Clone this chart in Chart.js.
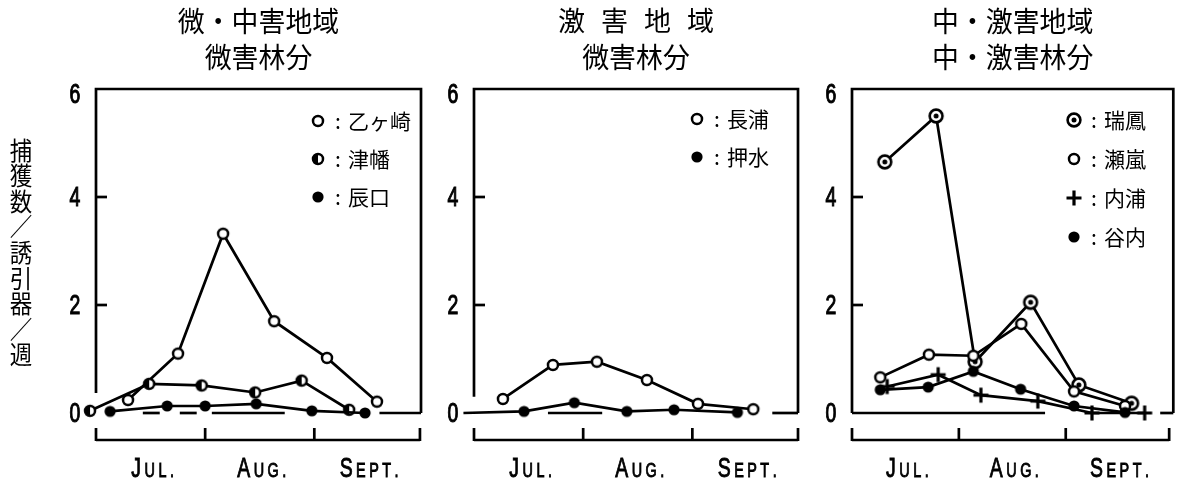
<!DOCTYPE html>
<html>
<head>
<meta charset="utf-8">
<script src="https://cdn.jsdelivr.net/npm/chart.js@4/dist/chart.umd.min.js"></script>
<style>
  html, body { margin: 0; padding: 0; background: #fff; }
  #wrap { position: relative; width: 1182px; height: 483px; background: #fff; }
  #wrap canvas { position: absolute; left: 0; top: 0; }
</style>
</head>
<body>
<div id="wrap">
  <canvas id="c1" width="1182" height="483"></canvas>
  <canvas id="c2" width="1182" height="483"></canvas>
  <canvas id="c3" width="1182" height="483"></canvas>
</div>
<script>
// ---- shared axis data (x = days counted from 1 July) ----
const monthNames = ['JUL.', 'AUG.', 'SEPT.'];
const monthStartDays = [0, 31, 62, 92];
const yTickLabels = ['0', '2', '4', '6'];
const yTickValues = [0, 2, 4, 6];
const yAxisTitle = '捕獲数／誘引器／週';

// ---- panel 1: 微・中害地域 / 微害林分 ----
const p1Title = ['微・中害地域', '微害林分'];
const otogasakiDays  = [9.1, 23.3, 36.1, 50.6, 65.6, 79.8];
const otogasakiCatch = [0.24, 1.10, 3.32, 1.70, 1.02, 0.21];
const tsubataDays    = [-1.7, 15.1, 30.0, 45.2, 58.4, 71.9];
const tsubataCatch   = [0.04, 0.54, 0.51, 0.38, 0.60, 0.06];
const tatsunokuchiDays  = [4.0, 20.2, 31.0, 45.5, 61.3, 76.4];
const tatsunokuchiCatch = [0.03, 0.13, 0.13, 0.17, 0.04, 0.00];

// ---- panel 2: 激害地域 / 微害林分 ----
const p2Title = ['激 害 地 域', '微害林分'];
const nagauraDays  = [8.2, 22.4, 34.9, 49.1, 63.6, 79.3];
const nagauraCatch = [0.26, 0.89, 0.95, 0.61, 0.17, 0.07];
const oshimizuDays  = [-3.0, 14.2, 28.5, 43.4, 56.8, 74.8];
const oshimizuCatch = [0.00, 0.03, 0.19, 0.03, 0.06, 0.01];

// ---- panel 3: 中・激害地域 / 中・激害林分 ----
const p3Title = ['中・激害地域', '中・激害林分'];
const zuihoDays  = [9.5, 24.4, 35.7, 51.8, 65.8, 81.1];
const zuihoCatch = [4.65, 5.50, 0.95, 2.05, 0.52, 0.18];
const searashiDays  = [8.2, 22.3, 35.2, 49.1, 64.4, 79.2];
const searashiCatch = [0.66, 1.08, 1.06, 1.65, 0.40, 0.13];
const uchiuraDays  = [10.2, 25.0, 37.4, 53.9, 69.6, 84.9];
const uchiuraCatch = [0.49, 0.71, 0.33, 0.22, 0.00, 0.00];
const yachiDays  = [8.2, 22.1, 35.2, 48.9, 64.4, 79.2];
const yachiCatch = [0.43, 0.48, 0.77, 0.44, 0.13, 0.01];

// ---- marker drawing ----
function drawMarker(ctx, kind, x, y) {
  ctx.save();
  ctx.strokeStyle = '#000';
  ctx.fillStyle = '#000';
  ctx.setLineDash([]);
  if (kind === 'open') {
    ctx.beginPath(); ctx.arc(x, y, 5, 0, Math.PI * 2);
    ctx.fillStyle = '#fff'; ctx.fill();
    ctx.lineWidth = 2.5; ctx.stroke();
  } else if (kind === 'half') {
    ctx.beginPath(); ctx.arc(x, y, 5, 0, Math.PI * 2);
    ctx.fillStyle = '#fff'; ctx.fill();
    ctx.beginPath(); ctx.arc(x, y, 5, Math.PI * 0.5, Math.PI * 1.5);
    ctx.fillStyle = '#000'; ctx.fill();
    ctx.beginPath(); ctx.arc(x, y, 5, 0, Math.PI * 2);
    ctx.lineWidth = 2.5; ctx.stroke();
  } else if (kind === 'filled') {
    ctx.beginPath(); ctx.arc(x, y, 5.6, 0, Math.PI * 2); ctx.fill();
  } else if (kind === 'double') {
    ctx.beginPath(); ctx.arc(x, y, 6.4, 0, Math.PI * 2);
    ctx.fillStyle = '#fff'; ctx.fill();
    ctx.lineWidth = 2.6; ctx.stroke();
    ctx.beginPath(); ctx.arc(x, y, 2.5, 0, Math.PI * 2);
    ctx.fillStyle = '#000'; ctx.fill();
  } else if (kind === 'plus') {
    ctx.lineWidth = 3.2;
    ctx.beginPath();
    ctx.moveTo(x - 7.5, y); ctx.lineTo(x + 7.5, y);
    ctx.moveTo(x, y - 7.5); ctx.lineTo(x, y + 7.5);
    ctx.stroke();
  }
  ctx.restore();
}

function markerImage(kind) {
  const c = document.createElement('canvas');
  c.width = 20; c.height = 20;
  drawMarker(c.getContext('2d'), kind, 10, 10);
  return c;
}

// condensed text helper (tall narrow lettering), optional stroke for weight
function condensedText(ctx, text, x, y, font, sx, weight) {
  ctx.save();
  ctx.font = font;
  ctx.textAlign = 'center';
  ctx.textBaseline = 'middle';
  ctx.translate(x, y);
  ctx.scale(sx, 1);
  ctx.fillText(text, 0, 0);
  if (weight) {
    ctx.lineWidth = weight;
    ctx.strokeStyle = '#000';
    ctx.strokeText(text, 0, 0);
  }
  ctx.restore();
}

// spaced title: characters set on a fixed pitch, centred on cx
function spacedText(ctx, text, cx, y, font, pitch) {
  const chars = text.split(' ');
  ctx.save();
  ctx.font = font;
  ctx.textAlign = 'center';
  ctx.textBaseline = 'middle';
  const start = cx - pitch * (chars.length - 1) / 2;
  chars.forEach((ch, i) => ctx.fillText(ch, start + i * pitch, y));
  ctx.restore();
}

// month label: capital first letter, small capitals for the rest
function monthLabel(ctx, text, cx, cy) {
  const big = '27px "Liberation Sans", "DejaVu Sans", sans-serif';
  const small = '20px "Liberation Sans", "DejaVu Sans", sans-serif';
  const sx = 0.72, spacing = 3.5;
  ctx.save();
  ctx.fillStyle = '#000';
  ctx.strokeStyle = '#000';
  ctx.lineWidth = 0.9;
  ctx.textBaseline = 'alphabetic';
  const parts = text.split('').map((ch, i) => {
    ctx.font = i === 0 ? big : small;
    return { ch, font: ctx.font, w: ctx.measureText(ch).width * sx };
  });
  const total = parts.reduce((s, p) => s + p.w, 0) + spacing * (parts.length - 1);
  let x = cx - total / 2;
  const base = cy + 10;
  parts.forEach(p => {
    ctx.save();
    ctx.font = p.font;
    ctx.translate(x, base);
    ctx.scale(sx, 1);
    ctx.fillText(p.ch, 0, 0);
    ctx.strokeText(p.ch, 0, 0);
    ctx.restore();
    x += p.w + spacing;
  });
  ctx.restore();
}

const jpFont = '"Noto Sans CJK JP", "Noto Sans CJK SC", sans-serif';

// frame, axes, titles and legend for one panel
const panelPlugin = {
  id: 'panelDecor',
  beforeDatasetsDraw(chart) {
    const cfg = chart.config.options.plugins.panelDecor;
    const ctx = chart.ctx;
    const xs = chart.scales.x, ys = chart.scales.y;
    const X = v => xs.getPixelForValue(v);
    const Y = v => ys.getPixelForValue(v);
    const x0 = X(xs.min), x1 = X(xs.max);
    ctx.save();
    ctx.strokeStyle = '#000';
    ctx.fillStyle = '#000';
    ctx.lineWidth = 2.7;
    ctx.lineCap = 'butt';
    // frame: top, left, right
    ctx.beginPath();
    ctx.moveTo(x0, Y(cfg.leftBottom)); ctx.lineTo(x0, Y(6));
    ctx.lineTo(x1, Y(6)); ctx.lineTo(x1, Y(0));
    ctx.stroke();
    // visible pieces of the zero line
    cfg.zeroSegments.forEach(([a, b]) => {
      ctx.beginPath(); ctx.moveTo(X(a), Y(0)); ctx.lineTo(X(b), Y(0)); ctx.stroke();
    });
    // inner ticks at 2 and 4
    [2, 4].forEach(v => {
      ctx.beginPath(); ctx.moveTo(x0, Y(v)); ctx.lineTo(x0 + 11, Y(v)); ctx.stroke();
    });
    // y tick labels
    yTickValues.forEach((v, i) => {
      const dy = v === 6 ? 7 : 2;
      condensedText(ctx, yTickLabels[i], x0 - 21, Y(v) + dy,
        '27px "Liberation Sans", "DejaVu Sans", sans-serif', 0.72, 1.1);
    });
    // month bracket under the plot
    const by = 440;
    ctx.beginPath();
    ctx.moveTo(X(monthStartDays[0]), by);
    ctx.lineTo(X(monthStartDays[3]), by);
    ctx.stroke();
    monthStartDays.forEach(d => {
      ctx.beginPath(); ctx.moveTo(X(d), by + 1); ctx.lineTo(X(d), by - 12); ctx.stroke();
    });
    monthNames.forEach((m, i) => {
      const mid = (monthStartDays[i] + monthStartDays[i + 1]) / 2;
      monthLabel(ctx, m, X(mid) + 2, 467);
    });
    // titles
    const cx = (x0 + x1) / 2;
    cfg.title.forEach((t, i) => {
      const ty = i === 0 ? 21 : 57;
      if (t.indexOf(' ') >= 0) {
        spacedText(ctx, t, cx, ty, '27px ' + jpFont, 43);
      } else {
        condensedText(ctx, t, cx, ty, '28px ' + jpFont, 0.96);
      }
    });
    // vertical axis title
    if (cfg.showYTitle) {
      ctx.font = '25px ' + jpFont;
      ctx.textAlign = 'center';
      ctx.textBaseline = 'middle';
      yAxisTitle.split('').forEach((ch, i) => {
        ctx.save();
        ctx.translate(21, 150 + i * 25.6);
        ctx.scale(0.9, 1.0);
        ctx.fillText(ch, 0, 0);
        ctx.restore();
      });
    }
    ctx.restore();
  },
  afterDatasetsDraw(chart) {
    const cfg = chart.config.options.plugins.panelDecor;
    const ctx = chart.ctx;
    ctx.save();
    ctx.fillStyle = '#000';
    cfg.legend.forEach((item, i) => {
      const y = cfg.legendTop + i * cfg.legendStep;
      drawMarker(ctx, item.kind, cfg.legendX, y);
      ctx.font = '21px ' + jpFont;
      ctx.textBaseline = 'middle';
      ctx.textAlign = 'left';
      ctx.fillText(':', cfg.legendX + 17, y);
      ctx.fillText(item.label, cfg.legendX + 30, y);
    });
    ctx.restore();
  }
};

function series(days, values, kind) {
  return { days, values, kind };
}

function makeChart(id, p) {
  const datasets = p.series.map(s => ({
    data: s.days.map((d, i) => ({ x: d, y: s.values[i] })),
    borderColor: '#000',
    borderWidth: 2.7,
    pointStyle: markerImage(s.kind),
    pointRadius: 6,
    tension: 0,
    fill: false,
    clip: false
  }));
  return new Chart(document.getElementById(id), {
    type: 'line',
    data: { datasets },
    options: {
      responsive: false,
      animation: false,
      devicePixelRatio: 1,
      events: [],
      layout: { padding: { left: p.left, right: 1182 - p.right, top: 89, bottom: 483 - 413 } },
      scales: {
        x: { type: 'linear', min: 0, max: p.xMax, display: false },
        y: { type: 'linear', min: 0, max: 6, display: false }
      },
      plugins: {
        legend: { display: false },
        tooltip: { enabled: false },
        title: { display: false },
        panelDecor: p.decor
      }
    },
    plugins: [panelPlugin]
  });
}

makeChart('c1', {
  left: 96, right: 421, xMax: 92.3,
  series: [
    series(tatsunokuchiDays, tatsunokuchiCatch, 'filled'),
    series(tsubataDays, tsubataCatch, 'half'),
    series(otogasakiDays, otogasakiCatch, 'open')
  ],
  decor: {
    title: p1Title, showYTitle: true, leftBottom: 0.37,
    zeroSegments: [[13.3, 18.1], [23.8, 28.6], [32.9, 53.6], [80.5, 92.3]],
    legendX: 318, legendTop: 121, legendStep: 38,
    legend: [
      { kind: 'open', label: '乙ヶ崎' },
      { kind: 'half', label: '津幡' },
      { kind: 'filled', label: '辰口' }
    ]
  }
});

makeChart('c2', {
  left: 474, right: 798, xMax: 92,
  series: [
    series(oshimizuDays, oshimizuCatch, 'filled'),
    series(nagauraDays, nagauraCatch, 'open')
  ],
  decor: {
    title: p2Title, showYTitle: false, leftBottom: 0.3,
    zeroSegments: [[21.0, 36.4], [84.7, 92]],
    legendX: 697, legendTop: 119, legendStep: 38,
    legend: [
      { kind: 'open', label: '長浦' },
      { kind: 'filled', label: '押水' }
    ]
  }
});

makeChart('c3', {
  left: 852, right: 1177, xMax: 93.2,
  series: [
    series(yachiDays, yachiCatch, 'filled'),
    series(uchiuraDays, uchiuraCatch, 'plus'),
    series(searashiDays, searashiCatch, 'open'),
    series(zuihoDays, zuihoCatch, 'double')
  ],
  decor: {
    title: p3Title, showYTitle: false, leftBottom: 0,
    zeroSegments: [[0, 56], [89.4, 93.2]],
    legendX: 1074, legendTop: 120, legendStep: 39,
    legend: [
      { kind: 'double', label: '瑞鳳' },
      { kind: 'open', label: '瀬嵐' },
      { kind: 'plus', label: '内浦' },
      { kind: 'filled', label: '谷内' }
    ]
  }
});
</script>
</body>
</html>
